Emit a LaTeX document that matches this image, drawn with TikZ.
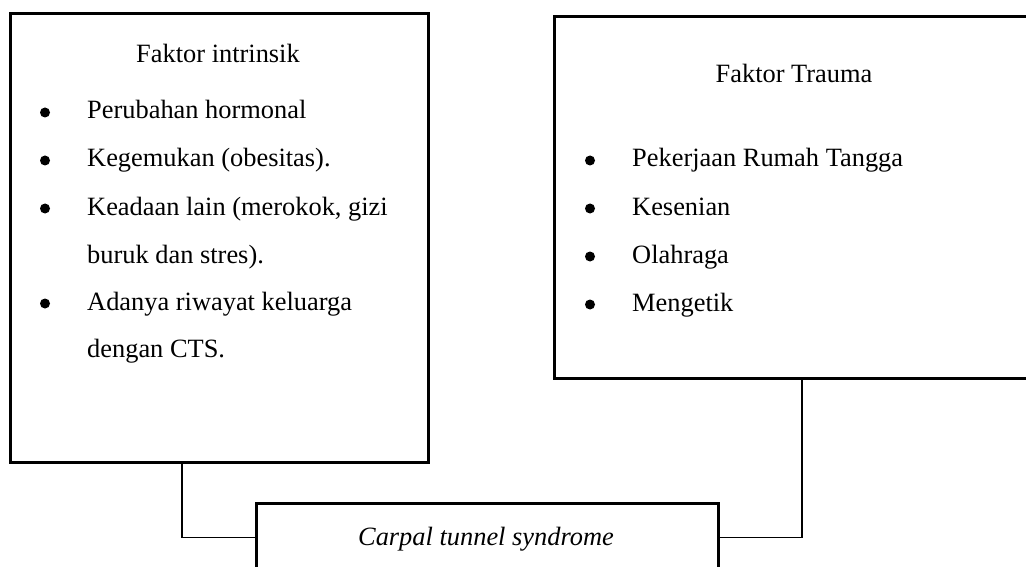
\documentclass[tikz,border=0pt]{standalone}
\usepackage{fontspec}
\setmainfont{Liberation Serif}
\begin{document}
\begin{tikzpicture}[x=1pt,y=-1pt,
  box/.style={draw, line width=2.8pt, anchor=north west, inner sep=0pt},
  conn/.style={draw, line width=1.3pt},
  txt/.style={anchor=base west, inner sep=0pt, font=\fontsize{26.4}{30}\selectfont},
  ttl/.style={anchor=base, inner sep=0pt, font=\fontsize{26.4}{30}\selectfont},
  bul/.style={circle, fill, inner sep=0pt, minimum size=10pt}]
\useasboundingbox (0,0) rectangle (1026,567);
% boxes
\node[box, minimum width=418pt, minimum height=449pt] (intr) at (9,12) {};
\node[box, minimum width=490pt, minimum height=362pt] (trauma) at (553,15) {};
\node[box, minimum width=462pt, minimum height=68pt] (cts) at (255,502) {};
% left box texts
\node[ttl] (t1) at (218,63) {Faktor intrinsik};
\node[bul] (b11) at (45,112.5) {};
\node[bul] (b12) at (45,160.5) {};
\node[bul] (b13) at (45,208.5) {};
\node[bul] (b14) at (45,303.5) {};
\node[txt] (i11) at (87,119) {Perubahan hormonal};
\node[txt] (i12) at (87,167) {Kegemukan (obesitas).};
\node[txt] (i13) at (87,215) {Keadaan lain (merokok, gizi};
\node[txt] (i13b) at (87,263) {buruk dan stres).};
\node[txt] (i14) at (87,310) {Adanya riwayat keluarga};
\node[txt] (i14b) at (87,357) {dengan CTS.};
% right box texts
\node[ttl] (t2) at (794,83) {Faktor Trauma};
\node[bul] (b21) at (590,160.5) {};
\node[bul] (b22) at (590,208.5) {};
\node[bul] (b23) at (590,256.5) {};
\node[bul] (b24) at (590,304.5) {};
\node[txt] (i21) at (632,167) {Pekerjaan Rumah Tangga};
\node[txt] (i22) at (632,215) {Kesenian};
\node[txt] (i23) at (632,263) {Olahraga};
\node[txt] (i24) at (632,311) {Mengetik};
% bottom box text
\node[ttl] (t3) at (486,545) {\itshape Carpal tunnel syndrome};
% connectors
\draw[conn] ([xshift=173pt]intr.south west) |- (cts.west);
\draw[conn] ([xshift=249pt]trauma.south west) |- (cts.east);
\end{tikzpicture}
\end{document}
